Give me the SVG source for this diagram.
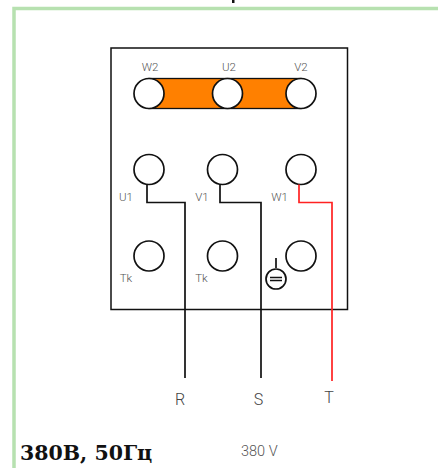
<svg xmlns="http://www.w3.org/2000/svg" width="438" height="468" viewBox="0 0 438 468">
<style>
.t{font-family:"Roboto","Noto Sans",sans-serif;font-weight:300;fill:#555;font-size:11.500px}
.b{font-family:"Roboto","Noto Sans",sans-serif;font-weight:300;fill:#444;font-size:16px}
.c{fill:#fff;stroke:#111;stroke-width:1.700}
.w{fill:none;stroke:#111;stroke-width:1.700}
</style>
<rect width="438" height="468" fill="#fff"/>
<path d="M14 468V8.500H438" fill="none" stroke="#b7e1b0" stroke-width="3.500"/>
<rect x="232" y="0" width="2.500" height="3" fill="#111"/>
<rect id="box" x="111" y="48" width="236.500" height="261.500" fill="#fff" stroke="#111" stroke-width="1.500"/>
<rect id="bridge" x="149" y="78.500" width="152" height="30" fill="#ff8000" stroke="#111" stroke-width="1.300"/>
<g id="n-w2"><circle class="c" cx="149" cy="93.500" r="15"/><text class="t" x="150" y="71" text-anchor="middle">W2</text></g>
<g id="n-u2"><circle class="c" cx="227.500" cy="93.500" r="15"/><text class="t" x="229" y="71" text-anchor="middle">U2</text></g>
<g id="n-v2"><circle class="c" cx="301" cy="93.500" r="15"/><text class="t" x="301" y="71" text-anchor="middle">V2</text></g>
<g id="n-u1"><circle class="c" cx="149" cy="169.500" r="15"/><text class="t" x="126" y="200.500" text-anchor="middle">U1</text></g>
<g id="n-v1"><circle class="c" cx="222.500" cy="169.500" r="15"/><text class="t" x="202" y="200.500" text-anchor="middle">V1</text></g>
<g id="n-w1"><circle class="c" cx="301" cy="169.500" r="15"/><text class="t" x="279.500" y="200.500" text-anchor="middle">W1</text></g>
<g id="n-tk1"><circle class="c" cx="149" cy="256" r="15"/><text class="t" x="126" y="281.500" text-anchor="middle">Tk</text></g>
<g id="n-tk2"><circle class="c" cx="222.500" cy="256" r="15"/><text class="t" x="201.500" y="281.500" text-anchor="middle">Tk</text></g>
<g id="n-e"><circle class="c" cx="301" cy="256" r="15"/></g>
<g id="ground"><path class="w" d="M276 258V268"/><circle class="c" cx="276" cy="279" r="10"/><path class="w" d="M270 277.500H282M270 280.500H282"/></g>
<g id="connectors">
<path class="w" d="M147 184.500V202.500H185V378"/>
<path class="w" d="M220 184.500V202.500H261V378"/>
<path d="M299 184.500V202.500H332V381" fill="none" stroke="#f22" stroke-width="1.700"/>
</g>
<text class="b" x="180" y="405" text-anchor="middle">R</text>
<text class="b" x="258.500" y="405" text-anchor="middle">S</text>
<text class="b" x="329" y="403" text-anchor="middle">T</text>
<text x="20" y="460" font-family="'DejaVu Serif',serif" font-weight="700" font-size="20.500px" fill="#111">380В, 50Гц</text>
<text class="t" x="241" y="456" style="font-size:14.500px">380 V</text>
</svg>
